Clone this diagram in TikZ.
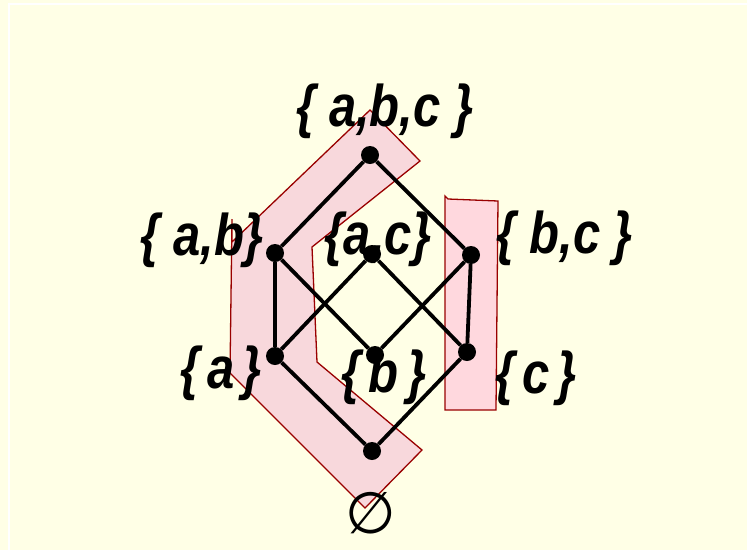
\documentclass[tikz,border=0pt]{standalone}
\usepackage{fontspec}
\setmainfont{Liberation Sans}
\newfontfamily\symbfont{DejaVu Sans}
\usetikzlibrary{positioning}
\definecolor{paleyellow}{RGB}{255,255,230}
\definecolor{zonepink}{RGB}{248,216,220}
\definecolor{zonerose}{RGB}{255,216,222}
\definecolor{zoneedge}{RGB}{153,0,0}
\tikzset{
    setnode/.style={
        circle,
        fill=black,
        inner sep=0pt,
        minimum size=18pt
    },
    setlabel/.style={
        inner sep=0pt,
        yscale=1.2,
        transform shape,
        font=\fontsize{49}{55}\selectfont\bfseries\itshape
    },
    hasse/.style={
        line width=3.8pt
    },
    zone/.style={
        draw=zoneedge,
        line width=1.3pt
    }
}

\begin{document}
\begin{tikzpicture}[x=1pt,y=-1pt]
    % Background
    \fill[paleyellow] (0,0) rectangle (747,550);
    \useasboundingbox (0,0) rectangle (747,550);
    \draw[white, line width=1.5pt] (9,550) -- (9,4) -- (747,4);

    % Shaded chains
    \filldraw[zone, fill=zonepink] (370,110) -- (420,161) -- (312,247) -- (317,362)
        -- (422,450) -- (365,508) -- (230,373) -- (232,219) -- (232,242) -- cycle;
    \filldraw[zone, fill=zonerose] (445,196) -- (448,199) -- (498,201) -- (496,410)
        -- (445,410) -- cycle;

    % Labels
    \node[setlabel] (labc) at (385,111) {\{ a,b,c \}};
    \node[setlabel] (lab) at (202,240) {\{ a,b\}};
    \node[setlabel] (lac) at (378,239) {\{a,c\}};
    \node[setlabel] (lbc) at (565,238) {\{ b,c \}};
    \node[setlabel] (la) at (221,373) {\{\,a\,\}};
    \node[setlabel] (lb) at (384,377) {\{\,b\,\}};
    \node[setlabel] (lc) at (536,378) {\{\,c\,\}};
    \node[inner sep=0pt, font=\symbfont\fontsize{58}{60}\selectfont] (lempty) at (371,513) {∅};

    % Lattice
    \node[setnode] (abc) at (370,155) {};
    \node[setnode] (ab) at (275,253) {};
    \node[setnode] (ac) at (372,254) {};
    \node[setnode] (bc) at (471,255) {};
    \node[setnode] (a) at (275,356) {};
    \node[setnode] (b) at (375,355) {};
    \node[setnode] (c) at (467,352) {};
    \node[setnode] (empty) at (372,451) {};

    % Edges
    \draw[hasse] (abc) -- (ab);
    \draw[hasse] (abc) -- (bc);
    \draw[hasse] (ab) -- (a);
    \draw[hasse] (ab) -- (b);
    \draw[hasse] (ac) -- (a);
    \draw[hasse] (ac) -- (c);
    \draw[hasse] (bc) -- (b);
    \draw[hasse] (bc) -- (c);
    \draw[hasse] (a) -- (empty);
    \draw[hasse] (c) -- (empty);
\end{tikzpicture}
\end{document}
